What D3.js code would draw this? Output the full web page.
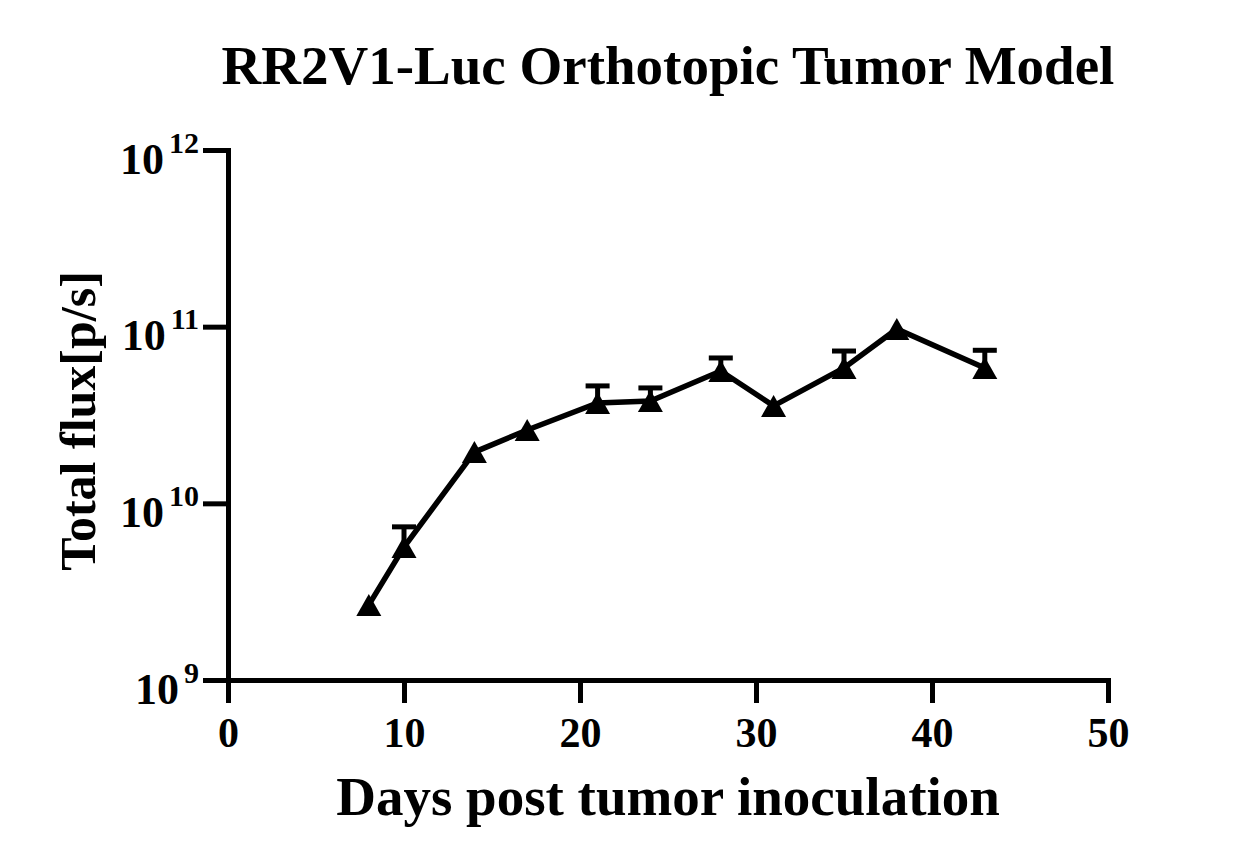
<!DOCTYPE html>
<html>
<head>
<meta charset="utf-8">
<script src="https://cdn.jsdelivr.net/npm/d3@7"></script>
<style>
  body { margin: 0; background: #fff; }
  svg { display: block; }
  .lbl { font-family: "Liberation Serif", "Times New Roman", serif; font-weight: bold; fill: #000; }
</style>
</head>
<body>
<svg id="chart"></svg>
<script>
// Days after inoculation, mean total flux and upper error (SEM)
const days = [8, 10, 14, 17, 21, 24, 28, 31, 35, 38, 43];
const flux = [2.66e9, 5.66e9, 1.95e10, 2.60e10, 3.70e10, 3.79e10, 5.61e10, 3.56e10, 5.84e10, 9.70e10, 5.84e10];
const sem  = [0, 1.7e9, 0, 0, 0.92e10, 0.71e10, 1.04e10, 0, 1.44e10, 0, 1.51e10];

const xTicks = [0, 10, 20, 30, 40, 50];
const yTicks = [1e9, 1e10, 1e11, 1e12];

const W = 1246, H = 868;
const svg = d3.select("#chart").attr("width", W).attr("height", H);

const x = d3.scaleLinear().domain([0, 50]).range([228, 1108]);
const y = d3.scaleLog().domain([1e9, 1e12]).range([680, 150]);

const pts = days.map((d, i) => ({ d, v: flux[i], e: sem[i] }));

// axes
const gx = svg.append("g").attr("transform", "translate(0,680)")
  .call(d3.axisBottom(x).tickValues(xTicks).tickSize(23).tickSizeOuter(0).tickFormat(d3.format("d")));
gx.select(".domain").attr("stroke-width", 5).attr("stroke-linecap", "square");
gx.selectAll(".tick line").attr("stroke-width", 5);
gx.selectAll(".tick text").attr("class", "lbl").attr("y", 67).attr("dy", 0)
  .style("font-size", "42px");

const gy = svg.append("g").attr("transform", "translate(228,0)")
  .call(d3.axisLeft(y).tickValues(yTicks).tickSize(25).tickSizeOuter(0).tickPadding(4));
gy.select(".domain").attr("stroke-width", 5).attr("stroke-linecap", "square");
gy.selectAll(".tick line").attr("stroke-width", 5);
gy.selectAll(".tick text").each(function (d) {
  const t = d3.select(this).attr("class", "lbl").attr("dy", 0).attr("y", 23).text(null)
    .style("font-size", "44px");
  t.append("tspan").text("10");
  t.append("tspan").attr("dx", 5).attr("dy", -21).style("font-size", "30px")
    .text(Math.round(Math.log10(d)));
});

// data line
svg.append("path").datum(pts)
  .attr("fill", "none").attr("stroke", "#000").attr("stroke-width", 5.5)
  .attr("stroke-linejoin", "miter")
  .attr("d", d3.line().x(p => x(p.d)).y(p => y(p.v)));

// error bars (upper only)
const eb = svg.append("g").selectAll("g").data(pts.filter(p => p.e > 0)).join("g");
eb.append("line")
  .attr("x1", p => x(p.d)).attr("x2", p => x(p.d))
  .attr("y1", p => y(p.v)).attr("y2", p => y(p.v + p.e))
  .attr("stroke", "#000").attr("stroke-width", 5);
eb.append("line")
  .attr("x1", p => x(p.d) - 12).attr("x2", p => x(p.d) + 12)
  .attr("y1", p => y(p.v + p.e)).attr("y2", p => y(p.v + p.e))
  .attr("stroke", "#000").attr("stroke-width", 5);

// triangle markers
svg.append("g").selectAll("path").data(pts).join("path")
  .attr("transform", p => `translate(${x(p.d)},${y(p.v)})`)
  .attr("d", "M0,-11 L12.5,11 L-12.5,11 Z")
  .attr("fill", "#000");

// titles
svg.append("text").attr("class", "lbl").attr("x", 668).attr("y", 84)
  .attr("text-anchor", "middle").style("font-size", "55px")
  .text("RR2V1-Luc Orthotopic Tumor Model");

svg.append("text").attr("class", "lbl").attr("x", 668).attr("y", 815)
  .attr("text-anchor", "middle").style("font-size", "55px")
  .text("Days post tumor inoculation");

svg.append("text").attr("class", "lbl")
  .attr("transform", "translate(95,421) rotate(-90)")
  .attr("text-anchor", "middle").style("font-size", "50px")
  .text("Total flux[p/s]");
</script>
</body>
</html>
